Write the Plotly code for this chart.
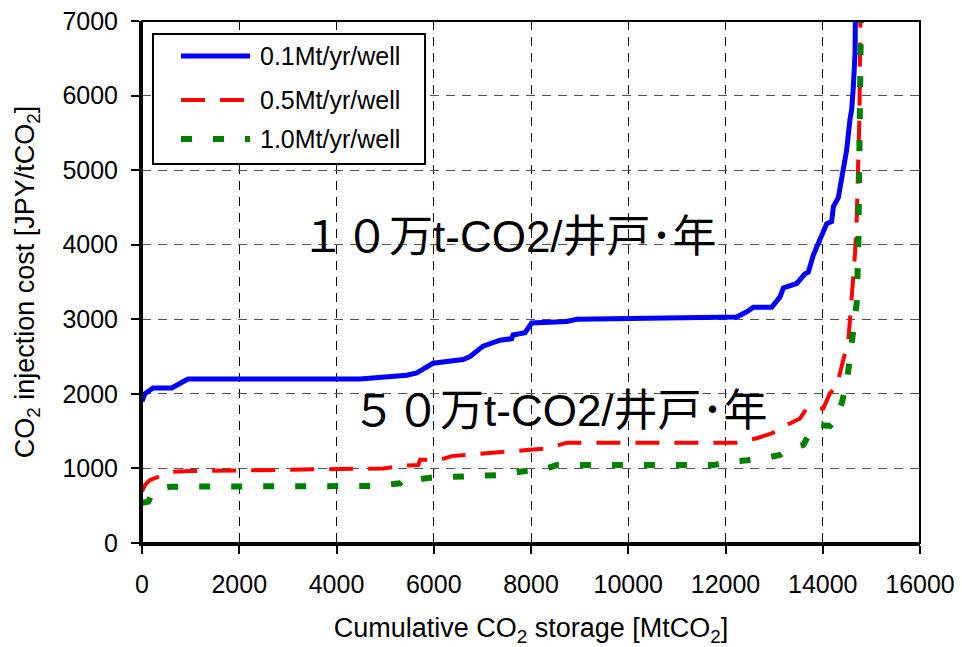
import plotly.graph_objects as go

# ---- data ----
blue_x = [0, 60, 226, 610, 946, 4480, 5444, 5650, 5985, 6600, 6746, 7015, 7363, 7603, 7630,
          7877, 8014, 8734, 8940, 12230, 12436, 12573, 12950, 13121, 13190, 13464, 13635,
          13703, 13806, 14012, 14080, 14183, 14218, 14320, 14390, 14458, 14492, 14560,
          14595, 14629, 14664, 14672]
blue_y = [1900, 2000, 2080, 2080, 2200, 2200, 2250, 2280, 2410, 2460, 2500, 2640, 2720, 2740,
          2790, 2820, 2950, 2970, 3000, 3030, 3100, 3160, 3160, 3300, 3420, 3480, 3610, 3630,
          3860, 4200, 4280, 4310, 4510, 4630, 4870, 5140, 5270, 5680, 5810, 6120, 6570, 7100]

red_x = [0, 62, 165, 267, 610, 987, 4963, 5360, 5683, 5717, 6129, 6369, 6951, 7192, 7980,
         8357, 8734, 12230, 12642, 12950, 13190, 13532, 13669, 14012, 14149, 14286, 14423,
         14526, 14560, 14595, 14664, 14698, 14732, 14753, 14766, 14780]
red_y = [690, 780, 845, 870, 955, 965, 1000, 1035, 1045, 1115, 1115, 1165, 1200, 1210, 1250,
         1270, 1345, 1345, 1405, 1470, 1560, 1670, 1805, 1805, 2010, 2100, 2455, 2725, 2990,
         3260, 3890, 4335, 5140, 5680, 6480, 7300]

green_x = [0, 130, 199, 302, 405, 576, 4827, 5306, 5409, 5717, 5923, 6951, 7295, 7774, 8323,
           8529, 11750, 12093, 12642, 13121, 13327, 13601, 13806, 13875, 14150, 14252, 14390,
           14492, 14560, 14629, 14698, 14732, 14753, 14780, 14790]
green_y = [540, 555, 645, 665, 735, 755, 765, 800, 865, 855, 875, 890, 910, 955, 1000, 1045,
           1045, 1090, 1120, 1180, 1270, 1315, 1560, 1585, 1570, 1650, 1875, 2145, 2545, 2815,
           3215, 3975, 5320, 5900, 7300]

series_names = ["0.1Mt/yr/well", "0.5Mt/yr/well", "1.0Mt/yr/well"]
x_ticks = [0, 2000, 4000, 6000, 8000, 10000, 12000, 14000, 16000]
x_tick_text = ["0", "2000", "4000", "6000", "8000", "10000", "12000", "14000", "16000"]
y_ticks = [0, 1000, 2000, 3000, 4000, 5000, 6000, 7000]
y_tick_text = ["0", "1000", "2000", "3000", "4000", "5000", "6000", "7000"]
label_10 = "１０万t-CO2/井戸･年"
label_50 = "５０万t-CO2/井戸･年"

LAT = "Liberation Sans, Arial, sans-serif"
CJK = "Liberation Sans, Noto Sans CJK JP, sans-serif"

styles = [
    dict(color="#0000FF", width=5, dash="solid"),
    dict(color="#FF0000", width=4, dash="24px,15px"),
    dict(color="#008000", width=6, dash="11px,21px"),
]

fig = go.Figure()
for (xs, ys), name, st in zip([(blue_x, blue_y), (red_x, red_y), (green_x, green_y)],
                              series_names, styles):
    fig.add_trace(go.Scatter(x=xs, y=ys, mode="lines", name=name, line=st,
                             showlegend=False))

axis_common = dict(
    showline=True, linecolor="black", linewidth=3, mirror=False,
    ticks="outside", ticklen=8, tickwidth=1.5, tickcolor="black",
    showgrid=True, gridwidth=1, griddash="9px,7px",
    zeroline=False, tickfont=dict(family=LAT, size=25, color="black"),
    automargin=False,
)

fig.update_layout(
    width=962, height=647,
    margin=dict(l=142, r=42, t=21, b=104),
    paper_bgcolor="white", plot_bgcolor="white",
    font=dict(family=LAT, color="black"),
    xaxis=dict(range=[0, 16000], tickvals=x_ticks, ticktext=x_tick_text,
               ticklabelstandoff=9, gridcolor="#111111",
               title=dict(text="Cumulative CO<sub>2</sub> storage [MtCO<sub>2</sub>]",
                          font=dict(family=LAT, size=27), standoff=26),
               **axis_common),
    yaxis=dict(range=[0, 7000], tickvals=y_ticks, ticktext=y_tick_text,
               ticklabelstandoff=8, gridcolor="#555555",
               title=dict(text="CO<sub>2</sub> injection cost [JPY/tCO<sub>2</sub>]",
                          font=dict(family=LAT, size=27), standoff=20),
               **axis_common),
)

# frame (top/right)
fig.add_shape(type="rect", xref="paper", yref="paper", x0=0, x1=1, y0=0, y1=1,
              line=dict(color="black", width=2), layer="above")

# manual legend box
fig.add_shape(type="rect", xref="paper", yref="paper", x0=0.0141, x1=0.3638,
              y0=0.726, y1=0.975, line=dict(color="black", width=2),
              fillcolor="white", layer="above")
leg_y = [0.933, 0.8487, 0.774]
for yy, name, st in zip(leg_y, series_names, styles):
    fig.add_shape(type="line", xref="paper", yref="paper", x0=0.0501, x1=0.1388,
                  y0=yy, y1=yy, line=st, layer="above")
    fig.add_annotation(xref="paper", yref="paper", x=0.1491, y=yy, text=name,
                       showarrow=False, xanchor="left", yanchor="middle",
                       font=dict(family=LAT, size=25, color="black"))

fig.add_annotation(x=7550, y=4107, text=label_10, showarrow=False,
                   font=dict(family=CJK, size=44, color="black"))
fig.add_annotation(x=8600, y=1771, text=label_50, showarrow=False,
                   font=dict(family=CJK, size=44, color="black"))

fig.write_html("out.html")
